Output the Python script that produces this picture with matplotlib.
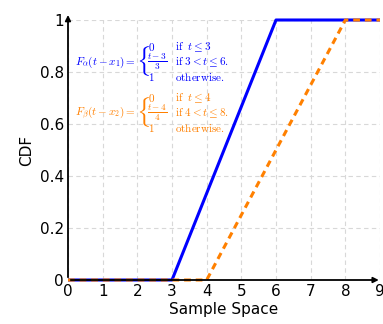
import numpy as np
import matplotlib
matplotlib.use("Agg")
import matplotlib.pyplot as plt

plt.rcParams['mathtext.fontset'] = 'cm'

# CDF breakpoints
t_alpha = [0, 3, 6, 9]
F_alpha = [0, 0, 1, 1]
t_beta = [0, 4, 8, 9]
F_beta = [0, 0, 1, 1]

xticks = list(range(0, 10))
yticks = [0, 0.2, 0.4, 0.6, 0.8, 1]
ytick_labels = ['0', '0.2', '0.4', '0.6', '0.8', '1']

blue = '#0000ff'
orange = '#ff8000'

fig = plt.figure(figsize=(3.83, 3.24), dpi=100)
ax = fig.add_axes([68/383, 44/324, 312/383, 260/324])

ax.plot(t_alpha, F_alpha, color=blue, lw=2.2, solid_capstyle='butt', clip_on=False, zorder=3)
ax.plot(t_beta, F_beta, color=orange, lw=2.2, ls=(0, (2.2, 1.6)), clip_on=False, zorder=4)

ax.set_xlim(0, 9)
ax.set_ylim(0, 1)
ax.set_xticks(xticks)
ax.set_yticks(yticks)
ax.set_yticklabels(ytick_labels)
ax.tick_params(labelsize=11, length=0, pad=3)
ax.grid(True, color='#d8d8d8', ls=(0, (4, 3)), lw=0.8)
for s in ax.spines.values():
    s.set_visible(False)

# axis arrows
ax.annotate('', xy=(0, 1.03), xytext=(0, 0), xycoords='axes fraction',
            arrowprops=dict(arrowstyle='-|>', color='black', lw=1.3, mutation_scale=8), zorder=5)
ax.annotate('', xy=(1.005, 0), xytext=(0, 0), xycoords='axes fraction',
            arrowprops=dict(arrowstyle='-|>', color='black', lw=1.3, mutation_scale=8), zorder=5)

ax.set_xlabel('Sample Space', fontsize=11, labelpad=2)
ax.set_ylabel('CDF', fontsize=11, labelpad=4)

# piecewise formulas
def cases(y0, name, idx, a, b, color):
    fs = 8
    dy = 0.057
    ax.text(0.2, y0, r'$F_{%s}(t-x_%d)=$' % (name, idx),
            color=color, fontsize=fs, va='center', ha='left')
    ax.text(1.97, y0 + 0.004, r'$\{$', color=color, fontsize=18, va='center', ha='left')
    ax.text(2.3, y0 + dy, r'$0$', color=color, fontsize=fs, va='center')
    ax.text(2.28, y0, r'$\frac{t-%d}{%d}$' % (a, a), color=color, fontsize=fs + 1.5, va='center')
    ax.text(2.3, y0 - dy, r'$1$', color=color, fontsize=fs, va='center')
    ax.text(3.1, y0 + dy, r'$\mathrm{if}\ \ t \leq %d$' % a, color=color, fontsize=fs, va='center')
    ax.text(3.1, y0, r'$\mathrm{if}\ %d < t \leq %d.$' % (a, b), color=color, fontsize=fs, va='center')
    ax.text(3.1, y0 - dy, r'$\mathrm{otherwise.}$', color=color, fontsize=fs, va='center')

cases(0.838, r'\alpha', 1, 3, 6, blue)
cases(0.642, r'\beta', 2, 4, 8, orange)

fig.savefig('out.png', dpi=100)
